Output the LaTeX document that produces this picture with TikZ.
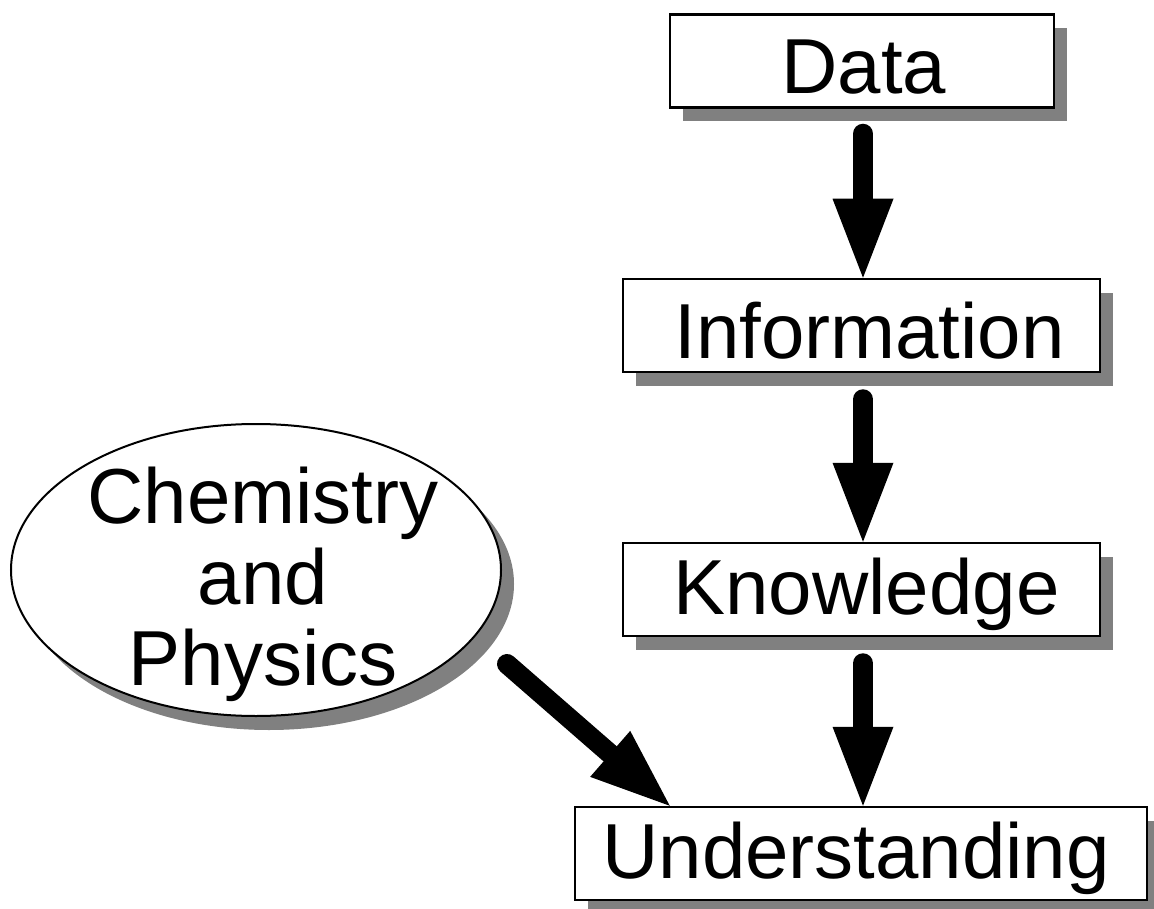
\documentclass[tikz,border=0pt]{standalone}
\usepackage{fontspec}
\setmainfont{Liberation Sans}
\usetikzlibrary{shapes.geometric,arrows.meta,shadows,calc}
\definecolor{shadowgray}{gray}{0.5}
\tikzset{
  bigfont/.style={font=\fontsize{78}{81}\selectfont},
  shad/.style={drop shadow={shadow xshift=13pt, shadow yshift=-14pt, fill=shadowgray, opacity=1}},
  box/.style={draw=black, line width=2.5pt, fill=white, inner sep=0pt,
    text height=56pt, text depth=0pt, minimum height=93pt, bigfont, shad},
  bigarrow/.style={line width=20pt, line cap=round,
    -{Triangle[length=79pt,width=61pt,line width=0pt]}},
}
\begin{document}
\begin{tikzpicture}[x=1pt,y=-1pt]
\useasboundingbox (0,0) rectangle (1154,909);
\node[box, minimum width=384pt, text height=66pt] (data) at (862,61) {\hspace*{4pt}Data};
\node[box, minimum width=477pt, text height=65pt] (info) at (861.5,325.5) {\hspace*{16pt}Information};
\node[box, minimum width=477pt, text height=49pt] (know) at (861.5,589.5) {\hspace*{10pt}Knowledge};
\node[box, minimum width=572pt, text height=49pt] (und) at (861,853.5) {Understanding\hspace*{10pt}};
\node[ellipse, draw=black, line width=2pt, fill=white, shad, inner sep=0pt,
  minimum width=490pt, minimum height=292pt] (ell) at (256,570) {};
\node[bigfont, align=center, inner sep=0pt] (elltext) at (263,584) {Chemistry\\and\\Physics};
\coordinate (cpstart) at ($(ell.center)+(251,94)$);
\coordinate (undin) at ($(und.north west)+(96,0)$);
\draw[bigarrow, shorten <=25pt] (data.south -| 863,0) -- (info.north -| 863,0);
\draw[bigarrow, shorten <=26pt] (info.south -| 863,0) -- (know.north -| 863,0);
\draw[bigarrow, shorten <=26pt] (know.south -| 863,0) -- (und.north -| 863,0);
\draw[bigarrow] (cpstart) -- (undin);
\end{tikzpicture}
\end{document}
